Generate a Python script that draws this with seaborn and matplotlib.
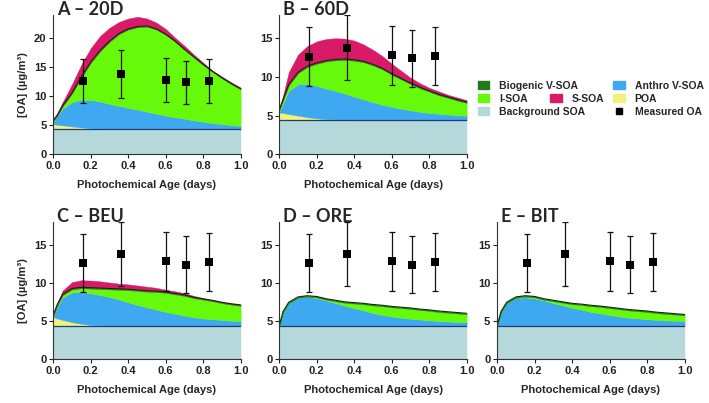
import numpy as np
import seaborn as sns
import matplotlib.pyplot as plt
from matplotlib.patches import Patch
from matplotlib.lines import Line2D

# photochemical age grid (days)
ages = [0, 0.02, 0.05, 0.1, 0.15, 0.2, 0.25, 0.3, 0.35, 0.4, 0.45, 0.5,
        0.55, 0.6, 0.65, 0.7, 0.75, 0.8, 0.85, 0.9, 0.95, 1.0]
background = 4.4
biogenic = 0.12

# measured OA
meas_age = [0.16, 0.36, 0.60, 0.71, 0.83]
meas_oa = [12.6, 13.8, 12.8, 12.4, 12.7]
meas_err = [3.8, 4.15, 3.8, 3.7, 3.8]

# stacked layer tops
A_poa = [5.2, 5.1, 5.0, 4.8, 4.65, 4.5, 4.45, 4.4, 4.4, 4.4, 4.4, 4.4,
         4.4, 4.4, 4.4, 4.4, 4.4, 4.4, 4.4, 4.4, 4.4, 4.4]
A_anthro = [5.6, 6.6, 7.9, 9.0, 9.4, 9.35, 9.1, 8.7, 8.35, 8.0, 7.7, 7.35,
            7.0, 6.65, 6.4, 6.15, 5.85, 5.6, 5.4, 5.2, 5.05, 4.9]
A_isoa = [5.75, 6.6, 8.3, 10.5, 13.3, 15.8, 17.8, 19.4, 20.7, 21.5, 21.9, 22.0,
          21.5, 20.6, 19.4, 18.0, 16.7, 15.4, 14.2, 13.1, 12.1, 11.2]
A_ssoa = [5.75, 7.0, 9.0, 12.1, 15.5, 18.3, 20.4, 21.8, 22.8, 23.4, 23.7, 23.4,
          22.7, 21.6, 20.1, 18.7, 17.2, 15.8, 14.4, 13.4, 12.4, 11.5]

B_poa = [5.4, 5.35, 5.2, 5.0, 4.8, 4.65, 4.55, 4.5, 4.45, 4.4, 4.4, 4.4,
         4.4, 4.4, 4.4, 4.4, 4.4, 4.4, 4.4, 4.4, 4.4, 4.4]
B_anthro = [5.5, 6.6, 8.2, 9.05, 9.1, 8.85, 8.5, 8.2, 7.85, 7.45, 7.1, 6.75,
            6.4, 6.15, 5.9, 5.7, 5.5, 5.35, 5.25, 5.15, 5.05, 5.0]
B_isoa = [5.7, 7.0, 8.9, 10.5, 11.3, 11.7, 12.0, 12.15, 12.2, 12.1, 11.9, 11.5,
          11.0, 10.3, 9.7, 9.1, 8.55, 8.1, 7.65, 7.3, 6.95, 6.65]
B_ssoa = [5.7, 7.6, 10.6, 12.9, 14.0, 14.6, 14.9, 15.0, 14.95, 14.7, 14.2, 13.5,
          12.7, 11.7, 10.8, 9.9, 9.2, 8.6, 8.15, 7.7, 7.35, 7.0]

C_poa = [5.5, 5.35, 5.15, 4.85, 4.65, 4.5, 4.45, 4.4, 4.4, 4.4, 4.4, 4.4,
         4.4, 4.4, 4.4, 4.4, 4.4, 4.4, 4.4, 4.4, 4.4, 4.4]
C_anthro = [5.6, 6.8, 8.1, 8.75, 8.8, 8.65, 8.4, 8.15, 7.85, 7.45, 7.1, 6.8,
            6.5, 6.2, 5.95, 5.7, 5.5, 5.35, 5.25, 5.15, 5.05, 5.0]
C_isoa = [5.7, 7.0, 8.4, 9.15, 9.3, 9.25, 9.2, 9.15, 9.1, 9.05, 8.95, 8.85,
          8.8, 8.7, 8.5, 8.3, 8.0, 7.8, 7.6, 7.35, 7.15, 7.0]
C_ssoa = [5.7, 7.3, 9.0, 10.1, 10.35, 10.3, 10.2, 10.05, 9.9, 9.8, 9.65, 9.5,
          9.35, 9.1, 8.9, 8.65, 8.3, 8.0, 7.7, 7.45, 7.25, 7.1]

D_anthro = [4.4, 6.1, 7.35, 8.05, 8.2, 8.0, 7.7, 7.35, 7.0, 6.7, 6.4, 6.05,
            5.8, 5.6, 5.45, 5.3, 5.2, 5.1, 5.0, 4.95, 4.9, 4.9]
D_isoa = [4.4, 6.15, 7.35, 8.05, 8.2, 8.1, 7.8, 7.6, 7.4, 7.3, 7.2, 7.05,
          6.95, 6.8, 6.7, 6.6, 6.45, 6.35, 6.2, 6.1, 6.0, 5.9]

E_anthro = [4.4, 6.1, 7.35, 8.0, 8.1, 7.95, 7.7, 7.35, 7.05, 6.75, 6.5, 6.2,
            6.0, 5.8, 5.6, 5.45, 5.35, 5.25, 5.15, 5.1, 5.05, 5.0]
E_isoa = [4.4, 6.15, 7.35, 8.05, 8.2, 8.1, 7.8, 7.6, 7.4, 7.2, 7.1, 6.95,
          6.85, 6.7, 6.55, 6.4, 6.3, 6.2, 6.05, 5.95, 5.85, 5.75]

titles = ['A – 20D', 'B – 60D', 'C – BEU', 'D – ORE', 'E – BIT']

c_bg = '#b5d8db'
c_poa = '#f3f07c'
c_anthro = '#3ea8f0'
c_isoa = '#66fa0a'
c_bio = '#1f7a1f'
c_ssoa = '#d81a68'

sns.set_style('ticks')
plt.rcParams['font.family'] = ['Liberation Sans', 'DejaVu Sans']
plt.rcParams['font.weight'] = 'bold'
plt.rcParams['axes.labelweight'] = 'bold'
plt.rcParams['axes.edgecolor'] = '#333333'
plt.rcParams['xtick.color'] = '#222222'
plt.rcParams['ytick.color'] = '#222222'

fig = plt.figure(figsize=(7.09, 4.03), dpi=100)
w, h_top, h_bot = 0.2642, 0.3457, 0.3414
panels = [
    ([0.0752, 0.617, w, h_top], A_poa, A_anthro, A_isoa, A_ssoa, 24, [0, 5, 10, 15, 20]),
    ([0.394, 0.617, w, h_top], B_poa, B_anthro, B_isoa, B_ssoa, 18, [0, 5, 10, 15]),
    ([0.0752, 0.1084, w, h_bot], C_poa, C_anthro, C_isoa, C_ssoa, 18, [0, 5, 10, 15]),
    ([0.394, 0.1084, w, h_bot], None, D_anthro, D_isoa, None, 18, [0, 5, 10, 15]),
    ([0.7014, 0.1084, w, h_bot], None, E_anthro, E_isoa, None, 18, [0, 5, 10, 15]),
]

x = np.array(ages)
for i, (pos, poa, anthro, isoa, ssoa, ytop, yt) in enumerate(panels):
    ax = fig.add_axes(pos)
    bg = np.full_like(x, background)
    kw = dict(linewidth=0.3)
    ax.fill_between(x, 0, bg, color=c_bg, **kw)
    lower = bg
    if poa is not None:
        ax.fill_between(x, bg, poa, color=c_poa, **kw)
        lower = np.array(poa)
    ax.fill_between(x, lower, anthro, color=c_anthro, **kw)
    ax.fill_between(x, anthro, isoa, color=c_isoa, **kw)
    bio_top = np.array(isoa) + biogenic
    ax.fill_between(x, isoa, bio_top, color=c_bio, **kw)
    if ssoa is not None:
        ax.fill_between(x, bio_top, np.maximum(ssoa, bio_top), color=c_ssoa, **kw)
    ax.plot(x, bio_top, color='#0d2a0d', lw=0.8)
    ax.plot(x, bg, color='#1d3c78', lw=0.9)

    ax.errorbar(meas_age, meas_oa, yerr=meas_err, fmt='none', ecolor='#111111',
                elinewidth=0.9, capsize=2.3, capthick=0.9, zorder=4)
    sns.scatterplot(x=meas_age, y=meas_oa, marker='s', color='black', s=26,
                    edgecolor='black', linewidth=0, ax=ax, zorder=5)

    ax.set_xlim(0, 1)
    ax.set_ylim(0, ytop)
    ax.set_xticks([0, 0.2, 0.4, 0.6, 0.8, 1.0])
    ax.set_xticklabels(['0.0', '0.2', '0.4', '0.6', '0.8', '1.0'])
    ax.set_yticks(yt)
    ax.tick_params(labelsize=8, length=3, width=0.8, pad=2)
    sns.despine(ax=ax)
    ax.set_xlabel('Photochemical Age (days)', fontsize=8, labelpad=6)
    if i in (0, 2):
        ax.set_ylabel('[OA] (µg/m³)', fontsize=8, labelpad=4)
    ax.text(0.02, 1.0, titles[i], transform=ax.transAxes, ha='left', va='baseline',
            fontsize=13, fontweight='bold', family=['Lato', 'DejaVu Sans'])

# legend, laid out in the top-right cell
lkw = dict(frameon=False, fontsize=7.5, handlelength=1.1, handleheight=0.75,
           handletextpad=0.95, labelspacing=0.3, borderpad=0, borderaxespad=0,
           loc='upper left')
col1 = [Patch(color=c_bio), Patch(color=c_isoa), Patch(color=c_bg)]
fig.legend(col1, ['Biogenic V-SOA', 'I-SOA', 'Background SOA'],
           bbox_to_anchor=(0.674, 0.80), **lkw)
col2 = [Patch(color=c_anthro), Patch(color=c_poa),
        Line2D([], [], marker='s', color='black', ls='none', markersize=4.5)]
fig.legend(col2, ['Anthro V-SOA', 'POA', 'Measured OA'],
           bbox_to_anchor=(0.865, 0.80), **lkw)
fig.legend([Patch(color=c_ssoa)], ['S-SOA'],
           bbox_to_anchor=(0.776, 0.767), **lkw)

fig.savefig('out.png', dpi=100)
